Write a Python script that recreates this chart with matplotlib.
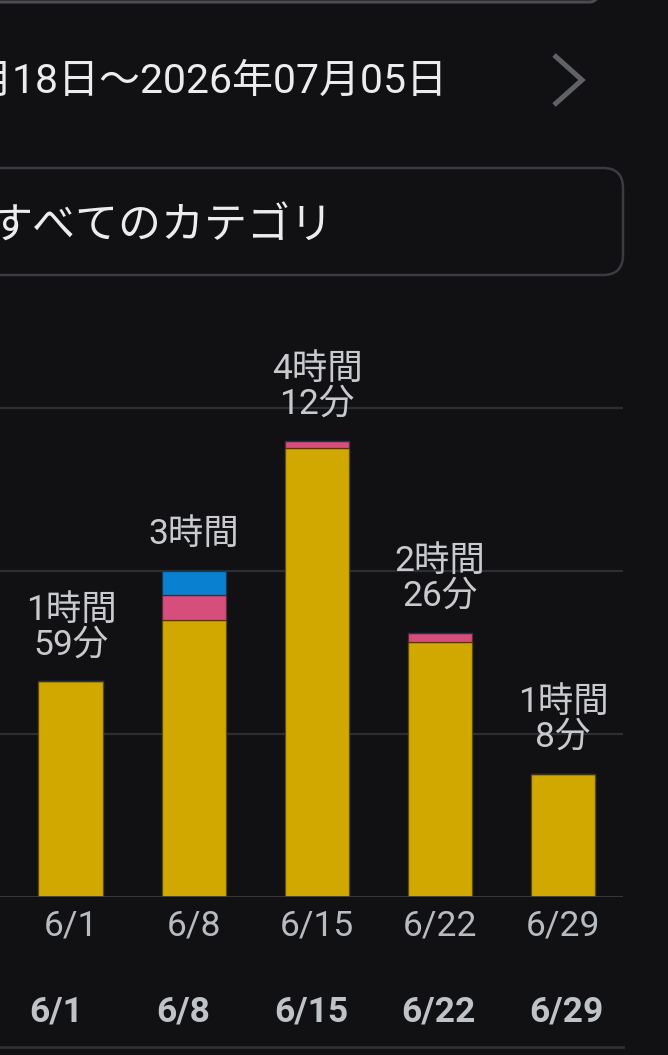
import matplotlib
matplotlib.use("Agg")
import matplotlib.pyplot as plt
from matplotlib.patches import FancyBboxPatch
import numpy as np

# ---- data ----
weeks = ["6/1", "6/8", "6/15", "6/22", "6/29"]
yellow_min = [119, 153, 248, 141, 68]
pink_min = [0, 14, 4, 5, 0]
blue_min = [0, 13, 0, 0, 0]
total_labels = ["1時間\n59分", "3時間", "4時間\n12分", "2時間\n26分", "1時間\n8分"]
grid_ticks = [90, 180, 270]
date_range_text = "月18日～2026年07月05日"
category_text = "すべてのカテゴリ"

BG = "#111114"
W, H = 668, 1055
FAM = ["Roboto", "Noto Sans CJK JP", "DejaVu Sans"]
plt.rcParams["font.family"] = FAM

fig = plt.figure(figsize=(W / 100, H / 100), dpi=100, facecolor=BG)

# background / decoration axes in pixel coordinates
bg = fig.add_axes([0, 0, 1, 1])
bg.set_xlim(0, W)
bg.set_ylim(H, 0)
bg.axis("off")
bg.set_facecolor(BG)

# top box (bottom edge visible)
bg.add_patch(FancyBboxPatch((-40, -120), 40 + 610, 122, boxstyle="round,pad=0,rounding_size=20",
                            fc="none", ec="#4a4d52", lw=2.2, clip_on=True))
# date range text
bg.text(448, 81, date_range_text, ha="right", va="center", color="#ececee", fontsize=29.5)
# chevron
bg.plot([554, 582, 554], [55, 80, 105], color="#5f6368", lw=3.6, solid_capstyle="butt", solid_joinstyle="miter")
# dropdown box
bg.add_patch(FancyBboxPatch((-40, 168), 40 + 623, 107, boxstyle="round,pad=0,rounding_size=20",
                            fc="none", ec="#3a3c41", lw=1.8))
bg.text(334, 227, category_text, ha="right", va="center", color="#ececee", fontsize=31)

# main chart axes
x_right = 623
base_y = 897
top_y = 330
px_per_min = 163 / 90
ax = fig.add_axes([0, (H - base_y) / H, x_right / W, (base_y - top_y) / H])
ax.set_facecolor("none")
ax.set_xlim(-0.577, 4.488)
ax.set_ylim(0, (base_y - top_y) / px_per_min)

x = np.arange(len(weeks))
bw = 0.528
y1 = np.array(yellow_min, dtype=float)
p1 = np.array(pink_min, dtype=float)
b1 = np.array(blue_min, dtype=float)
ax.bar(x, y1, width=bw, color="#d1a800", edgecolor="#5c4c10", linewidth=0.9, zorder=3)
ax.bar(x, p1, width=bw, bottom=y1, color="#d64f7c", edgecolor="#5a2a36", linewidth=0.9, zorder=3)
ax.bar(x, b1, width=bw, bottom=y1 + p1, color="#0a80d0", edgecolor="#1c3550", linewidth=0.9, zorder=3)

totals = y1 + p1 + b1
for xi, t, lab in zip(x, totals, total_labels):
    ax.annotate(lab, (xi, t), xytext=(0, 20), textcoords="offset pixels", ha="center", va="bottom",
                color="#c8cace", fontsize=25.5, linespacing=1.06, zorder=4)

for g in grid_ticks:
    ax.axhline(g, color="#2c2e31", lw=1.6, zorder=1)
ax.axhline(0, color="#3a3c40", lw=2.0, zorder=4)

for s in ax.spines.values():
    s.set_visible(False)
ax.set_yticks([])
ax.set_xticks(x)
ax.set_xticklabels(weeks)
ax.tick_params(axis="x", length=0, pad=9, labelsize=25.5, labelcolor="#b8bbc0")

# second row of date labels (bold)
ax2 = fig.add_axes([0, (H - 1047) / H, x_right / W, (1047 - 960) / H])
ax2.set_facecolor("none")
ax2.set_xlim(-0.439, 4.447)
ax2.set_ylim(0, 1)
for s in ["top", "left", "right"]:
    ax2.spines[s].set_visible(False)
ax2.spines["bottom"].set_color("#2e3033")
ax2.spines["bottom"].set_linewidth(2.0)
ax2.set_yticks([])
ax2.set_xticks([])
for xi, w in zip(x, weeks):
    ax2.text(xi, 0.4, w, ha="center", va="center", color="#bfc2c7", fontsize=25.5, fontweight="bold")

fig.savefig("out.png", dpi=100, facecolor=BG)
